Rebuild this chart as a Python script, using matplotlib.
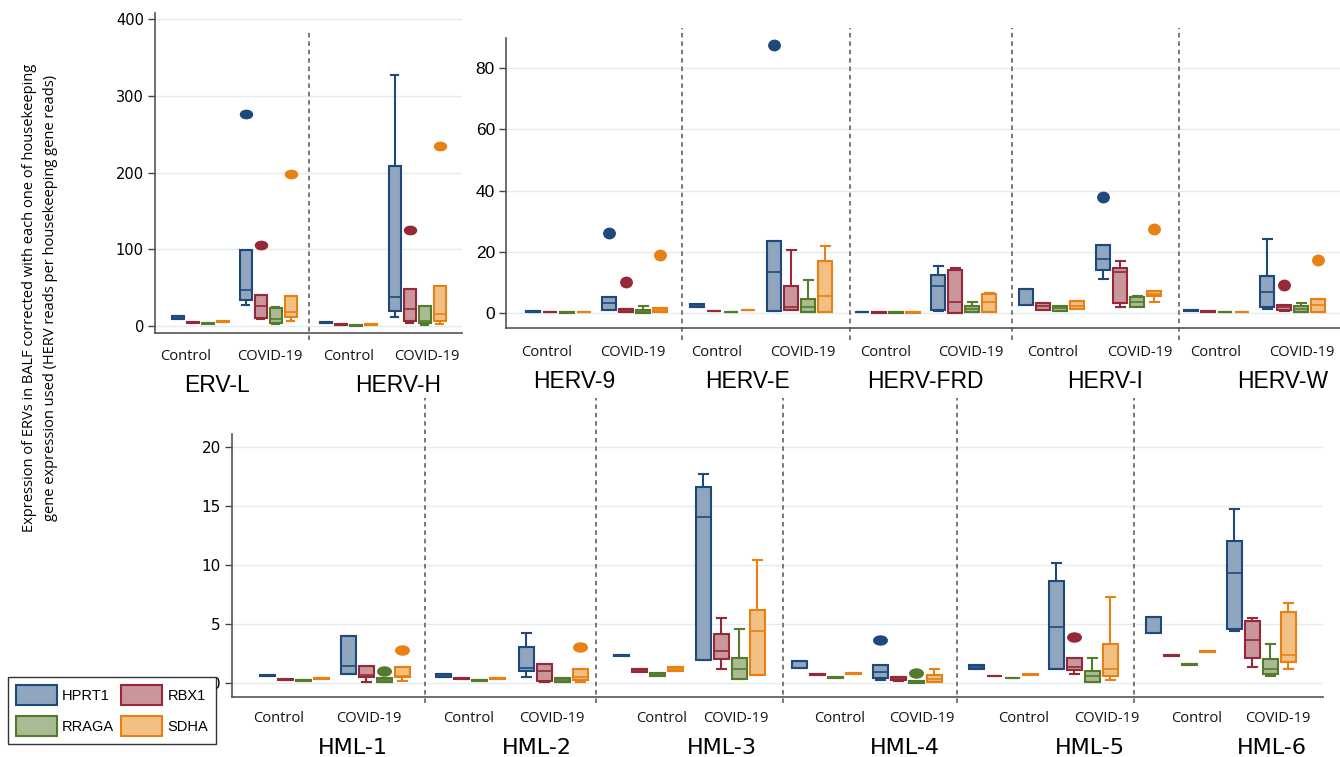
import matplotlib.pyplot as plt
from matplotlib.patches import Patch
from matplotlib.markers import MarkerStyle
from matplotlib.transforms import Affine2D, blended_transform_factory

# ---- data ----
genes = ["HPRT1", "RBX1", "RRAGA", "SDHA"]
groups = ["Control", "COVID-19"]
edge_colors = ["#1f497d", "#962837", "#537a2d", "#e88014"]
fill_colors = ["#8fa6be", "#c9969b", "#a9bb93", "#f2c082"]

# (whisker low, q1, median, q3, whisker high, outliers)
# first 4 rows: Control HPRT1/RBX1/RRAGA/SDHA, last 4: COVID-19
erv_l = [(9, 9, 11, 13, 13, []), (4.5, 4.5, 5, 5.5, 5.5, []),
         (2.5, 2.5, 3, 3.5, 3.5, []), (5.5, 5.5, 6, 6.5, 6.5, []),
         (27, 33.4, 47, 99.4, 99.4, [276]), (9, 10, 26, 40.8, 40.8, [105.5]),
         (2.6, 4.3, 8.7, 23.4, 24.5, []), (6.5, 11.7, 17.8, 39.5, 39.5, [198.5])]
herv_h = [(3.5, 3.5, 4.3, 5, 5, []), (1.2, 1.2, 1.7, 2.2, 2.2, []),
          (0.5, 0.5, 0.8, 1.1, 1.1, []), (1.2, 1.2, 1.7, 2.2, 2.2, []),
          (11.3, 19, 38, 208, 327, []), (3.5, 7, 22.6, 48, 48, [125.5]),
          (1.7, 3.5, 6, 26.5, 26.5, []), (2.6, 7, 15.2, 51.7, 51.7, [235])]
herv_9 = [(0.4, 0.4, 0.5, 0.6, 0.6, []), (0.2, 0.2, 0.3, 0.4, 0.4, []),
          (0, 0, 0.1, 0.2, 0.2, []), (0.2, 0.2, 0.3, 0.4, 0.4, []),
          (0.9, 0.9, 3.4, 5.3, 5.3, [26.2]), (0.2, 0.2, 0.6, 1.2, 1.2, [10.1]),
          (0.1, 0.1, 0.6, 1.1, 2.3, []), (0.2, 0.2, 0.9, 1.6, 1.6, [18.8])]
herv_e = [(1.9, 1.9, 2.4, 2.9, 2.9, []), (0.6, 0.6, 0.7, 0.8, 0.8, []),
          (0.2, 0.2, 0.3, 0.4, 0.4, []), (0.9, 0.9, 1.0, 1.1, 1.1, []),
          (0.65, 0.65, 13.3, 23.5, 23.5, [87.5]), (0.9, 0.9, 1.9, 8.9, 20.6, []),
          (0.3, 0.3, 1.9, 4.5, 10.9, []), (0.3, 0.3, 5.4, 16.9, 21.8, [])]
herv_frd = [(0.2, 0.2, 0.3, 0.4, 0.4, []), (0.1, 0.1, 0.2, 0.3, 0.3, []),
            (0, 0, 0.1, 0.2, 0.2, []), (0.1, 0.1, 0.2, 0.3, 0.3, []),
            (0.7, 0.9, 8.9, 12.5, 15.2, []), (0.1, 0.1, 3.5, 14.0, 14.6, []),
            (0.2, 0.2, 1.4, 2.4, 3.6, []), (0.3, 0.3, 3.6, 6.2, 6.5, [])]
herv_i = [(2.5, 2.5, 2.5, 7.9, 7.9, []), (1.1, 1.1, 2.3, 3.4, 3.4, []),
          (0.8, 0.8, 1.6, 2.4, 2.4, []), (1.3, 1.3, 2.4, 3.9, 3.9, []),
          (11.2, 13.9, 17.6, 22.1, 22.1, [38.0]), (1.9, 3.3, 13.4, 14.7, 17, []),
          (1.9, 1.9, 3.7, 5.2, 5.4, []), (3.5, 5.6, 6.3, 7.2, 7.2, [27.3])]
herv_w = [(0.7, 0.7, 0.8, 0.9, 0.9, []), (0.3, 0.3, 0.4, 0.5, 0.5, []),
          (0.2, 0.2, 0.3, 0.4, 0.4, []), (0.2, 0.2, 0.3, 0.4, 0.4, []),
          (1.4, 1.9, 6.7, 12.1, 24.3, []), (0.5, 0.9, 1.8, 2.5, 2.5, [9.3]),
          (0.2, 0.2, 1.4, 2.2, 3.3, []), (0.4, 0.4, 2.5, 4.5, 4.5, [17.3])]
hml_1 = [(0.58, 0.58, 0.62, 0.66, 0.66, []), (0.27, 0.27, 0.31, 0.35, 0.35, []),
         (0.19, 0.19, 0.23, 0.27, 0.27, []), (0.33, 0.33, 0.37, 0.41, 0.41, []),
         (0.73, 0.73, 1.41, 3.95, 3.95, []), (0.11, 0.5, 0.7, 1.44, 1.44, []),
         (0.08, 0.08, 0.25, 0.45, 0.45, [0.99]), (0.2, 0.48, 0.56, 1.33, 1.33, [2.82])]
hml_2 = [(0.48, 0.48, 0.6, 0.73, 0.73, []), (0.3, 0.3, 0.34, 0.38, 0.38, []),
         (0.19, 0.19, 0.23, 0.27, 0.27, []), (0.33, 0.33, 0.37, 0.41, 0.41, []),
         (0.51, 1.05, 1.27, 3.08, 4.27, []), (0.11, 0.17, 1.05, 1.61, 1.61, []),
         (0.08, 0.08, 0.25, 0.45, 0.45, []), (0.11, 0.23, 0.54, 1.21, 1.21, [3.08])]
hml_3 = [(2.25, 2.25, 2.29, 2.33, 2.33, []), (0.93, 0.93, 1.07, 1.21, 1.21, []),
         (0.59, 0.59, 0.7, 0.82, 0.82, []), (1.05, 1.05, 1.2, 1.36, 1.36, []),
         (1.95, 1.95, 14.07, 16.6, 17.7, []), (1.21, 2.06, 2.68, 4.15, 5.5, []),
         (0.34, 0.34, 1.21, 2.15, 4.58, []), (0.65, 0.65, 4.38, 6.21, 10.45, [])]
hml_4 = [(1.24, 1.24, 1.24, 1.86, 1.86, []), (0.69, 0.69, 0.73, 0.77, 0.77, []),
         (0.46, 0.46, 0.5, 0.54, 0.54, []), (0.78, 0.78, 0.82, 0.86, 0.86, []),
         (0.28, 0.4, 0.9, 1.55, 1.55, [3.64]), (0.14, 0.28, 0.4, 0.5, 0.5, []),
         (0.0, 0.0, 0.08, 0.17, 0.17, [0.82]), (0.08, 0.08, 0.37, 0.68, 1.19, [])]
hml_5 = [(1.19, 1.19, 1.36, 1.5, 1.5, []), (0.55, 0.55, 0.59, 0.63, 0.63, []),
         (0.38, 0.38, 0.42, 0.46, 0.46, []), (0.64, 0.64, 0.68, 0.72, 0.72, []),
         (1.16, 1.16, 4.72, 8.64, 10.14, []), (0.73, 1.07, 1.33, 2.15, 2.15, [3.9]),
         (0.11, 0.11, 0.56, 1.05, 2.15, []), (0.28, 0.59, 1.19, 3.28, 7.29, [])]
hml_6 = [(4.27, 4.27, 4.27, 5.56, 5.56, []), (2.3, 2.3, 2.34, 2.38, 2.38, []),
         (1.51, 1.51, 1.55, 1.59, 1.59, []), (2.62, 2.62, 2.66, 2.7, 2.7, []),
         (4.38, 4.58, 9.29, 12.0, 14.75, []), (1.38, 2.12, 3.62, 5.25, 5.54, []),
         (0.56, 0.79, 1.19, 2.03, 3.28, []), (1.16, 1.78, 2.34, 5.99, 6.81, [])]

top_left_names = ["ERV-L", "HERV-H"]
top_right_names = ["HERV-9", "HERV-E", "HERV-FRD", "HERV-I", "HERV-W"]
bottom_names = ["HML-1", "HML-2", "HML-3", "HML-4", "HML-5", "HML-6"]
top_left_ticks = [0, 100, 200, 300, 400]
top_right_ticks = [0, 20, 40, 60, 80]
bottom_ticks = [0, 5, 10, 15, 20]

# ---- layout (x in pixel units of the 1340x757 canvas) ----
W, H = 1340, 757
rows = [
    dict(names=top_left_names, stats=[erv_l, herv_h], ticks=top_left_ticks,
         box=(155, 462, 13, 333), ylim=(-9.1, 407.8), dividers=[309],
         centers=[(200, 268), (348, 417)], step=15, width=12,
         label_x=[(186, 270), (349, 427)], label_y=357,
         title_x=[217, 398], title_y=385, title_font=("Liberation Sans", 16.5),
         div_span=(-0.022, 0.947), ytick_font=("DejaVu Sans", 10.5),
         msize=6, mstretch=1.45),
    dict(names=top_right_names, stats=[herv_9, herv_e, herv_frd, herv_i, herv_w],
         ticks=top_right_ticks, box=(506, 1340, 38, 328), ylim=(-4.9, 89.8),
         dividers=[682, 850, 1012, 1179],
         centers=[(559, 635), (723, 800), (888, 964), (1052, 1129), (1217, 1293)],
         step=17, width=14,
         label_x=[(547, 633), (717, 803), (886, 971), (1053, 1140), (1216, 1302)],
         label_y=353, title_x=[574, 748, 925, 1105, 1283], title_y=382,
         title_font=("Liberation Sans", 16.5),
         div_span=(-0.04, 1.034), ytick_font=("Liberation Sans", 12.5),
         msize=7.5, mstretch=1.1),
    dict(names=bottom_names, stats=[hml_1, hml_2, hml_3, hml_4, hml_5, hml_6],
         ticks=bottom_ticks, box=(232, 1323, 434, 697), ylim=(-1.19, 21.1),
         dividers=[425, 596, 783, 957, 1134],
         centers=[(294, 375), (470, 553), (648, 730), (826, 907), (1003, 1083), (1180, 1261)],
         step=18, width=15,
         label_x=[(279, 369), (469, 552), (662, 736), (840, 922), (1024, 1107), (1197, 1278)],
         label_y=718, title_x=[353, 537, 722, 905, 1090, 1272], title_y=748,
         title_font=("DejaVu Sans", 16),
         div_span=(-0.023, 1.137), ytick_font=("DejaVu Sans", 11),
         msize=6.5, mstretch=1.5),
]

fig = plt.figure(figsize=(W / 100, H / 100), dpi=100)

for row in rows:
    x0, x1, ytop, ybot = row["box"]
    ax = fig.add_axes([x0 / W, 1 - ybot / H, (x1 - x0) / W, (ybot - ytop) / H])
    marker = MarkerStyle("o", transform=Affine2D().scale(row["mstretch"], 1.0))

    for p, stats in enumerate(row["stats"]):
        for g in range(2):
            for j in range(4):
                lo, q1, med, q3, hi, fl = stats[g * 4 + j]
                st = dict(whislo=lo, q1=q1, med=med, q3=q3, whishi=hi, fliers=fl)
                xpos = row["centers"][p][g] + (j - 1.5) * row["step"]
                ec = edge_colors[j]
                ax.bxp([st], positions=[xpos], widths=row["width"],
                       capwidths=row["width"] * 0.6, patch_artist=True,
                       manage_ticks=False,
                       boxprops=dict(facecolor=fill_colors[j], edgecolor=ec, linewidth=1.5),
                       medianprops=dict(color=ec, linewidth=1.2),
                       whiskerprops=dict(color=ec, linewidth=1.5),
                       capprops=dict(color=ec, linewidth=1.5),
                       flierprops=dict(marker=marker, markersize=row["msize"],
                                       markerfacecolor=ec, markeredgecolor=ec))

    ax.set_xlim(x0, x1)
    ax.set_ylim(*row["ylim"])
    ax.set_xticks([])
    ax.set_yticks(row["ticks"])
    fam, fs = row["ytick_font"]
    ax.set_yticklabels([str(t) for t in row["ticks"]], fontfamily=fam, fontsize=fs)
    ax.tick_params(axis="y", direction="out", length=5, width=1, color="#444", pad=3)
    ax.yaxis.grid(True, color="#e3eded", linewidth=1)
    ax.set_axisbelow(True)
    for s in ["top", "right"]:
        ax.spines[s].set_visible(False)
    for s in ["left", "bottom"]:
        ax.spines[s].set_color("#555555")
        ax.spines[s].set_linewidth(1.2)

    for xd in row["dividers"]:
        ax.axvline(xd, ymin=row["div_span"][0], ymax=row["div_span"][1], clip_on=False,
                   color="#555555", linewidth=1.1, linestyle=(0, (3, 2.5)))

    trans = blended_transform_factory(ax.transData, fig.transFigure)
    tfam, tfs = row["title_font"]
    for p, name in enumerate(row["names"]):
        for g in range(2):
            ax.text(row["label_x"][p][g], 1 - row["label_y"] / H, groups[g],
                    transform=trans, ha="center", va="center",
                    fontfamily="Open Sans", fontsize=10.5, color="#111")
        ax.text(row["title_x"][p], 1 - row["title_y"] / H, name, transform=trans,
                ha="center", va="center", fontfamily=tfam, fontsize=tfs)

fig.text(40 / W, 1 - 298 / H,
         "Expression of ERVs in BALF corrected with each one of housekeeping\n"
         "gene expression used (HERV reads per housekeeping gene reads)",
         rotation=90, ha="center", va="center", fontfamily="Open Sans",
         fontsize=10.5, linespacing=1.5)

order = [0, 2, 1, 3]
handles = [Patch(facecolor=fill_colors[i], edgecolor=edge_colors[i], linewidth=1.5) for i in order]
labels = [genes[i] for i in order]
fig.legend(handles, labels, ncol=2, loc="upper left",
           bbox_to_anchor=(8 / W, 1 - 677 / H), borderaxespad=0,
           frameon=True, fancybox=False, edgecolor="#333333", framealpha=1,
           handlelength=2.8, handleheight=1.75, handletextpad=0.35,
           columnspacing=0.5, labelspacing=0.75, borderpad=0.55,
           prop={"family": "Liberation Sans", "size": 10.5})

fig.savefig("out.png", dpi=100)
